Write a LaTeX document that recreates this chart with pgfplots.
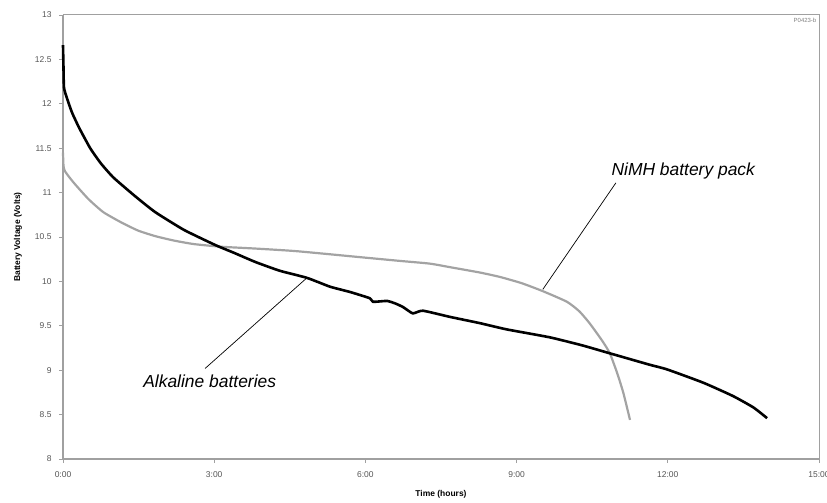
\documentclass[border=0pt]{standalone}
\usepackage{pgfplots}
\pgfplotsset{compat=1.18}
\usepackage{fontspec}
\setmainfont{Liberation Sans}
\definecolor{axgray}{HTML}{A0A0A0}
\definecolor{nimh}{HTML}{A3A3A3}
\definecolor{ticktext}{HTML}{555555}
\begin{document}
\begin{tikzpicture}[x=1bp,y=1bp]
\path[use as bounding box] (-63bp,-44bp) rectangle (764bp,459bp);
\begin{axis}[
  scale only axis,
  width=756bp, height=444bp,
  xmin=0, xmax=15, ymin=8, ymax=13,
  axis x line*=bottom, axis y line*=left,
  axis line style={axgray, line width=1.6bp},
  xtick={0,3,6,9,12,15},
  xticklabels={0:00,3:00,6:00,9:00,12:00,15:00},
  ytick={8,8.5,...,13},
  tick align=outside,
  major tick length=4bp,
  tick style={axgray, line width=0.8bp},
  /pgf/number format/assume math mode=true,
  ticklabel style={font=\fontsize{8.5}{9}\selectfont, text=ticktext},
  xticklabel style={yshift=-5bp},
  yticklabel style={xshift=-4bp},
  xlabel={Time (hours)},
  ylabel={Battery Voltage (Volts)},
  xlabel style={font=\fontsize{8.5}{9}\bfseries\selectfont, at={(axis description cs:0.5,0)}, anchor=center, yshift=-35bp},
  ylabel style={font=\fontsize{8.5}{9}\bfseries\selectfont, at={(axis description cs:0,0.5)}, anchor=center, rotate=0, yshift=45bp},
  clip=false,
]
\draw[axgray, line width=1bp] (rel axis cs:0,1) -- (rel axis cs:1,1) -- (rel axis cs:1,0);
\node[anchor=north east, font=\fontsize{6}{7}\selectfont, text=gray, inner sep=2.5bp] at (rel axis cs:1,1) {P0423-b};
% NiMH battery pack
\addplot[nimh, line width=2.2bp, line join=round, smooth, tension=0.35] coordinates {
(0,11.45) (0.01,11.3) (0.04,11.24) (0.2,11.12) (0.5,10.93) (0.8,10.78) (1.17,10.66)
(1.5,10.57) (1.83,10.51) (2.2,10.46) (2.6,10.42) (3.15,10.39) (3.81,10.37) (4.64,10.34)
(5.95,10.27) (6.7,10.23) (7.28,10.20) (7.68,10.16) (8.27,10.10) (8.67,10.05) (9.1,9.98)
(9.52,9.89) (10.0,9.77) (10.25,9.66) (10.46,9.52) (10.7,9.33) (10.85,9.19)
(11.0,8.96) (11.12,8.74) (11.25,8.44)
};
% Alkaline batteries
\addplot[black, line width=2.6bp, line join=round, smooth, tension=0.3] coordinates {
(0,12.66) (0.01,12.4) (0.02,12.18) (0.08,12.06) (0.18,11.9) (0.32,11.73) (0.54,11.50) (0.75,11.33) (1.0,11.17)
(1.43,10.96) (1.83,10.78) (2.4,10.58) (3.02,10.41) (3.4,10.32) (3.81,10.22)
(4.3,10.12) (4.84,10.04) (5.3,9.94) (5.7,9.88) (6.09,9.81) (6.15,9.77)
(6.43,9.78) (6.6,9.75) (6.75,9.71) (6.94,9.64) (7.14,9.67) (7.68,9.60)
(8.27,9.53) (8.8,9.46) (9.66,9.37) (10.3,9.28) (10.85,9.19) (11.65,9.06)
(11.98,9.01) (12.7,8.86) (13.29,8.71) (13.7,8.58) (13.97,8.46)
};
\draw[black, line width=0.7bp] (axis cs:10.97,11.11) -- (axis cs:9.52,9.91);
\node[anchor=base west, font=\fontsize{17.5}{18}\itshape\selectfont, inner sep=0pt] at (axis cs:10.88,11.19) {NiMH battery pack};
\draw[black, line width=0.7bp] (axis cs:4.84,10.04) -- (axis cs:2.82,9.02);
\node[anchor=base west, font=\fontsize{17.5}{18}\itshape\selectfont, inner sep=0pt] at (axis cs:1.59,8.81) {Alkaline batteries};
\end{axis}
\end{tikzpicture}
\end{document}
